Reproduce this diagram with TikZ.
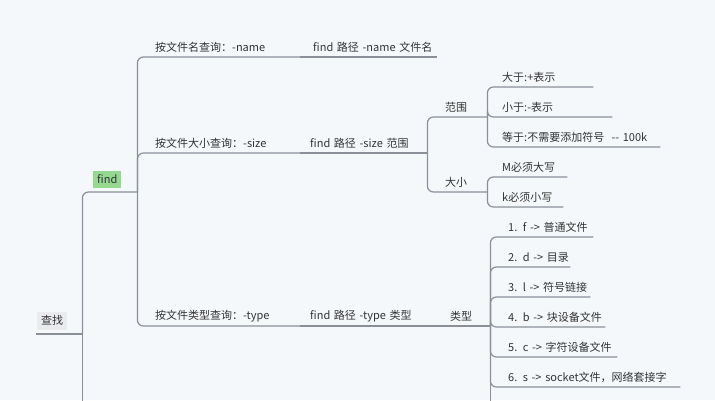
\documentclass[tikz,border=0pt]{standalone}
\usepackage{fontspec}
\setmainfont{Noto Sans CJK SC}
\usepackage{xcolor}
\definecolor{bgpaper}{HTML}{F5F8FB}
\definecolor{linkgray}{HTML}{8A8F99}
\definecolor{findgreen}{HTML}{95D890}
\definecolor{rootgray}{HTML}{E9EBEE}
\definecolor{inkgray}{HTML}{333333}
\tikzset{
  topic/.style n args={2}{anchor=south west, inner xsep=0pt, inner ysep=4pt,
    text width=#1 pt, align=left, font=\fontsize{11}{13}\selectfont,
    text=inkgray, execute at begin node={\hspace*{#2pt}}},
  link/.style={draw=linkgray, line width=1.2pt, rounded corners=6pt}
}
\setlength{\fboxsep}{4pt}
\begin{document}
\begin{tikzpicture}[x=1pt, y=-1pt]
  \fill[bgpaper] (0,0) rectangle (715,400);
  \clip (0,0) rectangle (715,400);

  % root and first level
  \node[topic={46}{1}] (root) at (36,334) {\colorbox{rootgray}{查找}};
  \node[topic={55}{11}] (find) at (82,192) {\colorbox{findgreen}{find}};

  % by name
  \node[topic={163}{18}] (byname) at (137,57) {按文件名查询：-name};
  \node[topic={137}{13}] (namecmd) at (300,57) {find 路径 -name 文件名};

  % by size
  \node[topic={163}{18}] (bysize) at (137,153) {按文件大小查询：-size};
  \node[topic={127}{10}] (sizecmd) at (300,153) {find 路径 -size 范围};
  \node[topic={60}{18}] (range) at (427,117) {范围};
  \node[topic={106}{15}] (greater) at (487,87) {大于:+表示};
  \node[topic={125}{15}] (less) at (487,117) {小于:-表示};
  \node[topic={173}{15}] (equal) at (487,147) {等于:不需要添加符号 \ {-}{-} 100k};
  \node[topic={60}{18}] (unit) at (427,192) {大小};
  \node[topic={80}{15}] (upperM) at (487,177) {M必须大写};
  \node[topic={76}{15}] (lowerk) at (487,207) {k必须小写};

  % by type
  \node[topic={163}{18}] (bytype) at (137,326) {按文件类型查询：-type};
  \node[topic={137}{10}] (typecmd) at (300,326) {find 路径 -type 类型};
  \node[topic={53}{13}] (kind) at (437,326) {类型};
  \foreach \i/\y/\w/\t in {1/237/103/{1. f -> 普通文件}, 2/267/80/{2. d -> 目录},
      3/297/100/{3. l -> 符号链接}, 4/327/115/{4. b -> 块设备文件},
      5/357/127/{5. c -> 字符设备文件}, 6/387/190/{6. s -> socket文件，网络套接字}}
    \node[topic={\w}{18}] (kind\i) at (490,\y) {\t};

  % connectors
  \draw[link] (root.south west) -- (root.south east);
  \draw[link] (root.south east) |- (find.south east);
  \draw[link] (root.south east) -- ++(0,80);
  \foreach \c in {byname, bysize, bytype}
    \draw[link] (find.south east) |- (\c.south east);
  \draw[link] (byname.south east) -- (namecmd.south east);
  \draw[link] (bysize.south east) -- (sizecmd.south east);
  \draw[link] (bytype.south east) -- (typecmd.south east);
  \foreach \c in {range, unit}
    \draw[link] (sizecmd.south east) |- (\c.south east);
  \foreach \c in {greater, less, equal}
    \draw[link] (range.south east) |- (\c.south east);
  \foreach \c in {upperM, lowerk}
    \draw[link] (unit.south east) |- (\c.south east);
  \draw[link] (typecmd.south east) -- (kind.south east);
  \foreach \i in {1,...,6}
    \draw[link] (kind.south east) |- (kind\i.south east);
  \draw[link] (kind.south east) -- ++(0,80);
\end{tikzpicture}
\end{document}
